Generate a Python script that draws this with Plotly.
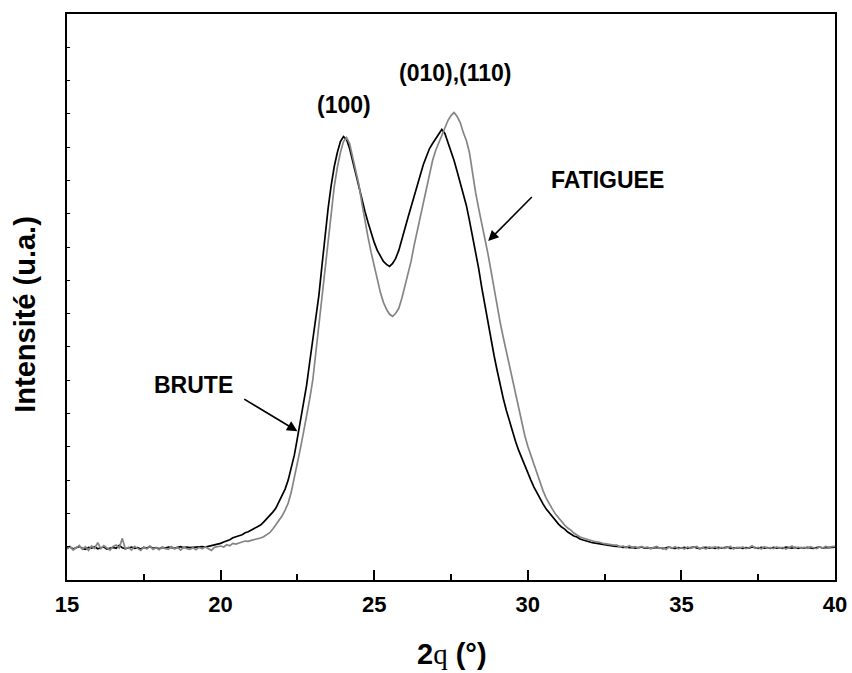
import plotly.graph_objects as go

# 2-theta sampling grid, 0.1 deg steps from 15.0 to 40.0 (251 points)
two_theta = [round(15 + 0.1 * i, 1) for i in range(251)]

# Diffracted intensity (counts) for the as-received sample; one row per degree
brute = [
    96, 99, 93, 97, 101, 95, 92, 98, 96, 100,                # 15
    94, 97, 99, 93, 96, 98, 95, 104, 97, 94,                 # 16
    96, 99, 95, 97, 93, 98, 96, 100, 95, 97,                 # 17
    94, 98, 96, 99, 97, 95, 98, 100, 97, 99,                 # 18
    97, 98, 99, 98, 100, 99, 101, 103, 104, 107,             # 19
    110, 114, 117, 121, 127, 129, 133, 136, 142, 145,        # 20
    150, 155, 159, 165, 174, 183, 192, 204, 216, 234,        # 21
    252, 273, 300, 336, 375, 426, 480, 534, 585, 654,        # 22
    720, 786, 855, 945, 1035, 1116, 1185, 1242, 1284, 1317,  # 23
    1332, 1323, 1296, 1257, 1218, 1179, 1143, 1107, 1074, 1041,  # 24
    1014, 990, 972, 957, 948, 942, 951, 966, 990, 1020,      # 25
    1056, 1089, 1122, 1155, 1188, 1218, 1248, 1272, 1296, 1311,  # 26
    1326, 1341, 1353, 1341, 1314, 1290, 1260, 1227, 1191, 1158,  # 27
    1125, 1080, 1035, 987, 936, 879, 825, 777, 726, 675,     # 28
    630, 585, 546, 510, 477, 447, 417, 390, 366, 342,        # 29
    321, 300, 279, 261, 243, 228, 213, 201, 189, 177,        # 30
    168, 159, 153, 144, 138, 132, 129, 123, 120, 117,        # 31
    114, 112, 111, 109, 108, 106, 105, 103, 102, 102,        # 32
    100, 98, 99, 97, 98, 96, 97, 99, 96, 97,                 # 33
    95, 97, 98, 96, 94, 97, 99, 96, 95, 97,                  # 34
    96, 98, 95, 97, 99, 96, 94, 97, 98, 96,                  # 35
    97, 95, 98, 96, 97, 99, 95, 96, 98, 97,                  # 36
    95, 97, 96, 99, 97, 95, 98, 96, 97, 95,                  # 37
    98, 96, 97, 95, 99, 97, 96, 98, 95, 97,                  # 38
    96, 98, 97, 95, 97, 99, 96, 98, 97, 99,                  # 39
    99,                                                      # 40
]

# Diffracted intensity (counts) for the fatigued sample
fatiguee = [
    93, 101, 90, 98, 104, 92, 100, 89, 102, 95,              # 15
    112, 94, 103, 96, 90, 101, 105, 96, 125, 93,             # 16
    98, 90, 101, 95, 89, 99, 93, 102, 92, 97,                # 17
    91, 99, 94, 92, 100, 93, 98, 90, 99, 94,                 # 18
    92, 97, 91, 98, 94, 99, 93, 89, 98, 101,                 # 19
    102, 99, 106, 103, 110, 108, 112, 114, 117, 116,         # 20
    119, 121, 124, 126, 130, 135, 142, 153, 165, 177,        # 21
    192, 210, 231, 264, 306, 351, 396, 444, 492, 543,        # 22
    600, 684, 774, 855, 942, 1026, 1110, 1182, 1239, 1284,   # 23
    1317, 1329, 1311, 1272, 1233, 1188, 1131, 1077, 1029, 984,   # 24
    942, 903, 864, 834, 813, 798, 792, 801, 816, 846,        # 25
    882, 921, 957, 1005, 1047, 1095, 1140, 1182, 1224, 1260,  # 26
    1290, 1314, 1338, 1362, 1380, 1395, 1404, 1392, 1374, 1344,  # 27
    1320, 1284, 1221, 1164, 1116, 1074, 1026, 981, 930, 876,  # 28
    822, 774, 729, 687, 642, 597, 552, 510, 471, 435,        # 29
    402, 375, 348, 318, 288, 267, 246, 228, 213, 198,        # 30
    186, 174, 165, 156, 150, 141, 135, 129, 126, 123,        # 31
    120, 117, 115, 114, 111, 109, 108, 106, 105, 105,        # 32
    99, 102, 97, 103, 98, 100, 96, 101, 97, 99,              # 33
    94, 98, 101, 95, 97, 92, 99, 96, 100, 94,                # 34
    97, 93, 99, 95, 98, 101, 94, 97, 93, 99,                 # 35
    96, 100, 94, 98, 95, 97, 101, 93, 98, 96,                # 36
    99, 94, 97, 103, 95, 98, 93, 100, 96, 97,                # 37
    94, 99, 96, 98, 93, 97, 102, 95, 99, 96,                 # 38
    98, 95, 100, 97, 94, 99, 96, 101, 98, 100,               # 39
    101,                                                     # 40
]

x_ticks = [15, 20, 25, 30, 35, 40]

# Text labels: (text, 2theta, intensity)
peak_labels = [("(100)", 24.02, 1428), ("(010),(110)", 27.66, 1524)]
sample_labels = [("BRUTE", 19.12, 585), ("FATIGUEE", 32.6, 1200)]
# Arrows: (head 2theta, head intensity, tail 2theta, tail intensity)
sample_arrows = [(22.50, 447, 20.72, 546), (28.71, 1018, 30.18, 1155)]

FONT = "Arial, 'Liberation Sans', sans-serif"

fig = go.Figure()
fig.add_trace(go.Scatter(x=two_theta, y=brute, mode="lines", name="BRUTE",
                         line=dict(color="#000000", width=1.7)))
fig.add_trace(go.Scatter(x=two_theta, y=fatiguee, mode="lines", name="FATIGUEE",
                         line=dict(color="#858585", width=1.7)))

annotations = []
for text, x, y in peak_labels + sample_labels:
    annotations.append(dict(x=x, y=y, xref="x", yref="y", text=f"<b>{text}</b>",
                            showarrow=False, xanchor="center", yanchor="middle",
                            font=dict(family=FONT, size=23, color="black")))
for hx, hy, tx, ty in sample_arrows:
    annotations.append(dict(x=hx, y=hy, ax=tx, ay=ty, xref="x", yref="y",
                            axref="x", ayref="y", text="", showarrow=True,
                            arrowhead=2, arrowsize=1.3, arrowwidth=1.6,
                            arrowcolor="black", standoff=0, startstandoff=0))

# Axis titles
annotations.append(dict(x=-0.055, y=0.47, xref="paper", yref="paper",
                        xanchor="center", yanchor="middle",
                        text="<b>Intensité (u.a.)</b>", textangle=-90,
                        showarrow=False,
                        font=dict(family=FONT, size=29, color="black")))
annotations.append(dict(x=0.501, y=-0.13, xref="paper", yref="paper",
                        xanchor="center", yanchor="middle",
                        text="<b>2</b><span style=\"font-family:'Liberation Serif', 'Times New Roman', serif;font-weight:normal\">q</span><b> (°)</b>",
                        showarrow=False,
                        font=dict(family=FONT, size=29, color="black")))

fig.update_layout(
    width=852, height=673,
    margin=dict(l=67, r=17, t=14, b=93),
    paper_bgcolor="white", plot_bgcolor="white",
    showlegend=False,
    annotations=annotations,
    xaxis=dict(
        range=[15, 40], tickvals=x_ticks, ticks="inside", ticklen=10,
        tickwidth=1.5, tickcolor="black", automargin=False,
        ticklabelstandoff=4,
        minor=dict(dtick=2.5, ticks="inside", ticklen=6, tickwidth=1.5,
                   tickcolor="black"),
        showline=True, linewidth=2, linecolor="black", mirror=True,
        showgrid=False, zeroline=False,
        tickfont=dict(family=FONT, size=22, color="black", weight="bold"),
    ),
    yaxis=dict(
        range=[0, 1700], dtick=100, ticks="inside", ticklen=3, tickwidth=1.2,
        tickcolor="black", showticklabels=False, automargin=False,
        showline=True, linewidth=2, linecolor="black", mirror=True,
        showgrid=False, zeroline=False,
    ),
)

fig.write_html("out.html")
